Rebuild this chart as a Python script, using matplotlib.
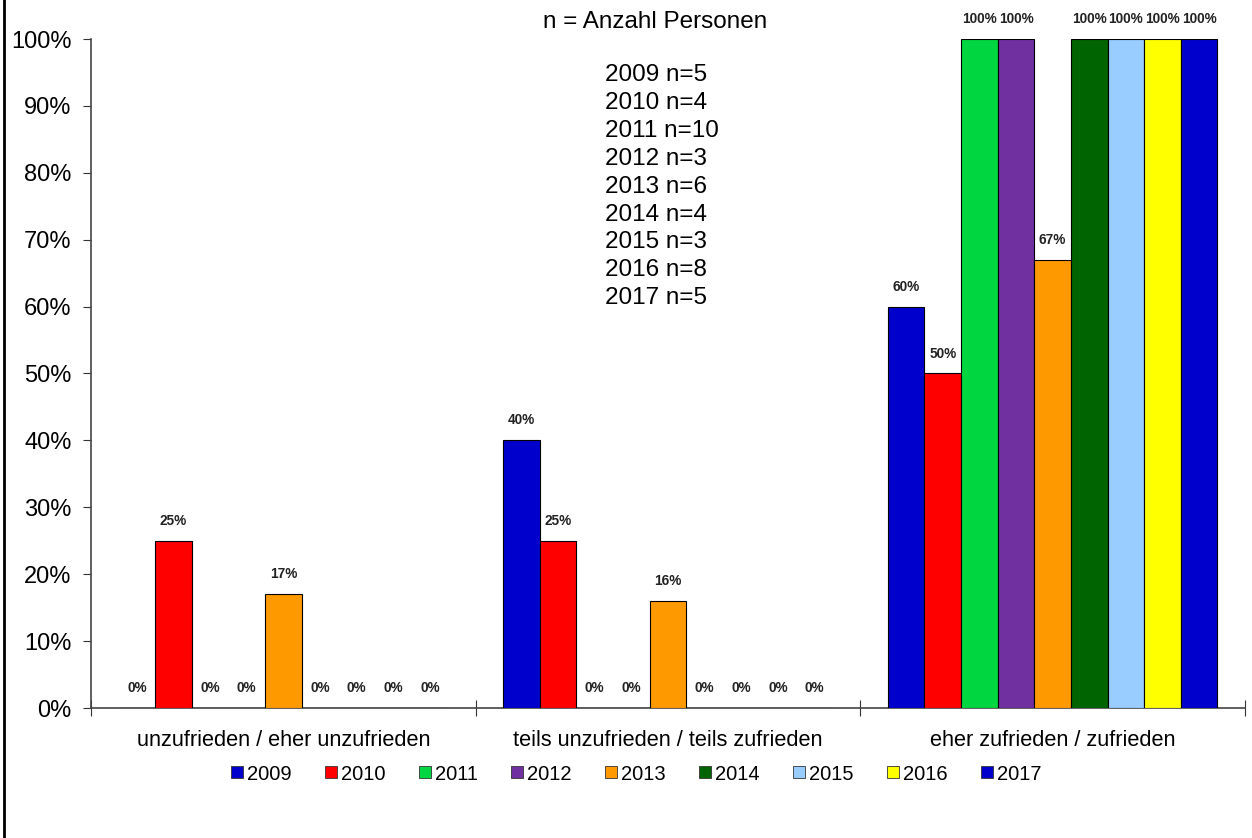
import numpy as np
import matplotlib
matplotlib.use('Agg')
import matplotlib.pyplot as plt
from matplotlib.lines import Line2D

plt.rcParams['font.family'] = ['Liberation Sans', 'DejaVu Sans']

categories = ['unzufrieden / eher unzufrieden', 'teils unzufrieden / teils zufrieden', 'eher zufrieden / zufrieden']
years = ['2009', '2010', '2011', '2012', '2013', '2014', '2015', '2016', '2017']
n_persons = [5, 4, 10, 3, 6, 4, 3, 8, 5]
values = [
	[0, 40, 60],
	[25, 25, 50],
	[0, 0, 100],
	[0, 0, 100],
	[17, 16, 67],
	[0, 0, 100],
	[0, 0, 100],
	[0, 0, 100],
	[0, 0, 100],
]
colors = ['#0000CC', '#FF0000', '#00D640', '#7030A0', '#FF9900', '#006400', '#99CCFF', '#FFFF00', '#0000CC']

fig = plt.figure(figsize=(12.52, 8.38), dpi=100)
ax = fig.add_axes([91/1252., 130/838., 1154/1252., 669/838.])

w = 0.0952
x = np.arange(len(categories)) + 0.5
for j, (yr, v, c) in enumerate(zip(years, values, colors)):
	pos = x + (j - 4) * w
	bars = ax.bar(pos, np.array(v) / 100., w, color=c, edgecolor='black', linewidth=0.8, label=yr, zorder=3)
	for p, val in zip(pos, v):
		ax.annotate(str(val) + '%', (p, val / 100.), xytext=(0, 14.4), textcoords='offset points',
			ha='center', va='center', fontsize=9.8, fontweight='bold', color='#222222')

ax.set_xlim(0, 3)
ax.set_ylim(0, 1)
ax.set_yticks(np.arange(0, 1.01, 0.1))
ax.set_yticklabels([str(int(round(t * 100))) + '%' for t in np.arange(0, 1.01, 0.1)], fontsize=17)
ax.set_xticks([0, 1, 2, 3])
ax.set_xticklabels([])
ax.set_xticks(x, minor=True)
ax.set_xticklabels(categories, minor=True, fontsize=15.7)
ax.tick_params(axis='x', which='major', direction='inout', length=12, color='#333333')
ax.tick_params(axis='x', which='minor', length=0, pad=15.5)
ax.tick_params(axis='y', direction='out', length=6, color='#333333', pad=8)
ax.spines['top'].set_visible(False)
ax.spines['right'].set_visible(False)
for s in ['left', 'bottom']:
	ax.spines[s].set_color('#444444')
	ax.spines[s].set_linewidth(1.2)

fig.text(655/1252., 1 - 22/838., 'n = Anzahl Personen', ha='center', va='center', fontsize=17.5)
for k, (yr, n) in enumerate(zip(years, n_persons)):
	fig.text(605/1252., 1 - (75 + k * 27.9)/838., yr + ' n=' + str(n), ha='left', va='center', fontsize=17.5)

handles = [Line2D([], [], marker='s', linestyle='none', markersize=8, markerfacecolor=c,
	markeredgecolor='#333333', markeredgewidth=0.6) for c in colors]
fig.legend(handles, years, loc='center', bbox_to_anchor=(634/1252., 1 - 774/838.), ncol=9, frameon=False,
	fontsize=14.5, handletextpad=0.0, columnspacing=1.45, handlelength=1.0)

fig.add_artist(Line2D([4/1252., 4/1252.], [0, 1], color='black', linewidth=2))

plt.savefig('out.png', dpi=100)
